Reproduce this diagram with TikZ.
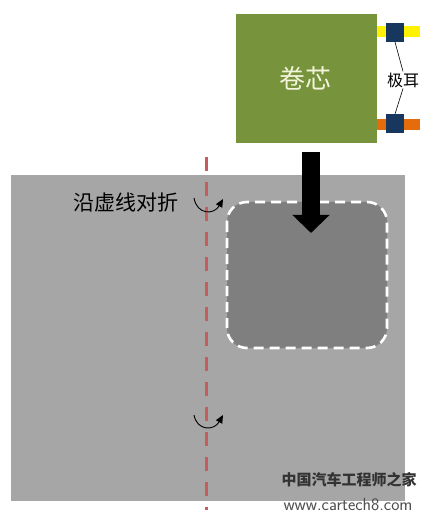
\documentclass[tikz,border=0pt]{standalone}
\usepackage{fontspec}
\newfontfamily\cjk{Noto Sans CJK SC}
\usetikzlibrary{arrows.meta}
\definecolor{sheetgray}{HTML}{A6A6A6}
\definecolor{pocketgray}{HTML}{7F7F7F}
\definecolor{coregreen}{HTML}{77933C}
\definecolor{tabblue}{HTML}{17375E}
\definecolor{foldred}{HTML}{C0504D}
\definecolor{taborange}{HTML}{E46C0A}
\definecolor{coretext}{HTML}{F2F5DC}
\tikzset{
  box/.style={draw=none, inner sep=0, outer sep=0},
  tabsq/.style={box, fill=tabblue, minimum width=18pt, minimum height=19pt},
  foldarrow/.style={line width=0.9pt, -{Triangle[width=7pt,length=8pt]}},
}
\begin{document}
\begin{tikzpicture}[x=1pt,y=-1pt]
\useasboundingbox (0,0) rectangle (426,518);
\fill[white] (0,0) rectangle (426,518);
% sheet
\node[box, fill=sheetgray, minimum width=394pt, minimum height=326pt, anchor=north west] (sheet) at (11,175) {};
% pocket
\node[box, fill=pocketgray, rounded corners=20pt, minimum width=160pt, minimum height=146pt, anchor=north west] (pocket) at (227,202) {};
\draw[white, line width=2.6pt, dash pattern=on 10pt off 6pt, rounded corners=20pt] (pocket.north west) rectangle (pocket.south east);
% fold line
\coordinate (foldtop) at (206,157);
\coordinate (foldbot) at (206,510);
\draw[foldred!92!white, line width=3pt, dash pattern=on 14pt off 11pt] (foldtop) -- (foldbot);
% tabs strips
\node[box, fill=yellow, minimum width=43pt, minimum height=11pt, anchor=north west] (strip1) at (377,26) {};
\node[box, fill=taborange, minimum width=43pt, minimum height=11pt, anchor=north west] (strip2) at (377,119) {};
% core
\node[box, fill=coregreen, minimum width=141pt, minimum height=129pt, anchor=north west] (core) at (236,14) {};
\node[text=coretext, font=\cjk\fontsize{26}{30}\selectfont] (coretxt) at (305,78) {卷芯};
% tab squares
\node[tabsq, anchor=north west] (tab1) at (386,23) {};
\node[tabsq, anchor=north west] (tab2) at (386,114) {};
% tab label
\node[font=\cjk\fontsize{16}{18}\selectfont, inner sep=1pt] (tablabel) at (403,80) {极耳};
\draw[black, line width=0.6pt] (tab1.south) -- (tablabel.north);
\draw[black, line width=0.6pt] (tablabel.south) -- (tab2.north);
% insert arrow
\coordinate (arrtop) at (311,152);
\coordinate (arrtip) at (311,233);
\draw[black, line width=18pt, -{Triangle[width=36pt,length=18pt]}] (arrtop) -- (arrtip);
% fold text
\node[font=\cjk\fontsize{21}{24}\selectfont, anchor=west, inner sep=0] (foldtxt) at (73,203) {沿虚线对折};
% curved arrows
\coordinate (c1a) at (194,198);
\coordinate (c1b) at (223,199);
\draw[foldarrow] (c1a) .. controls (197,215) and (214,215) .. (c1b);
\coordinate (c2a) at (194,415);
\coordinate (c2b) at (223,415);
\draw[foldarrow] (c2a) .. controls (197,431) and (214,431) .. (c2b);
% watermark
\node[font=\cjk\bfseries\fontsize{15}{17}\selectfont, text=black!80, inner sep=0] (wm1) at (349,480) {中国汽车工程师之家};
\node[font=\sffamily\fontsize{17.5}{20}\selectfont, text=black!70, inner sep=0] (wm2) at (348,505) {www.cartech8.com};
\end{tikzpicture}
\end{document}
